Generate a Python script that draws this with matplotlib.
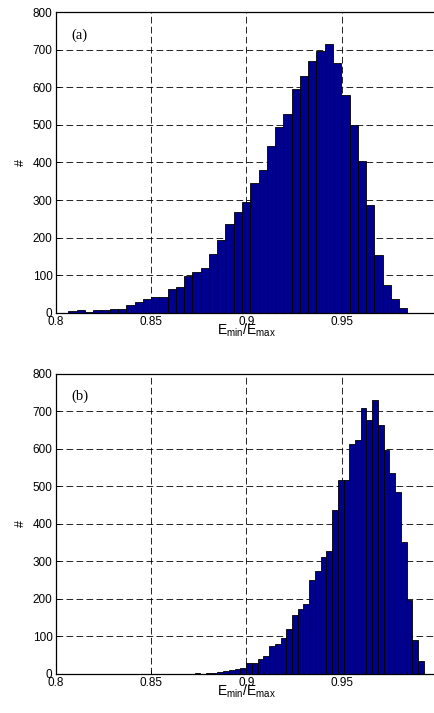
import numpy as np
import matplotlib
matplotlib.use('Agg')
import matplotlib.pyplot as plt

# ---- data ----

# (a): 41 visible bins
a_lo, a_hi = 0.8065, 0.9846
counts_a = [5, 6, 3, 6, 6, 9, 9, 20, 28, 36,
            42, 42, 63, 69, 99, 108, 120, 155, 194, 235,
            268, 294, 345, 379, 444, 495, 529, 596, 630, 670,
            698, 716, 665, 581, 500, 403, 286, 154, 74, 36,
            12]

# (b): 50 bins
b_lo, b_hi = 0.8427, 0.9932
counts_b = [0, 0, 0, 0, 0, 0, 0, 0, 0, 0,
            1, 0, 1, 2, 4, 7, 10, 12, 16, 29,
            29, 39, 48, 74, 79, 96, 119, 156, 172, 186,
            250, 274, 311, 327, 436, 516, 516, 612, 623, 710,
            676, 730, 665, 597, 537, 485, 351, 197, 90, 34]

panel_labels = ['(a)', '(b)']
xticks = [0.8, 0.85, 0.9, 0.95, 1.0]
xticklabels = ['0.8', '0.85', '0.9', '0.95', '1']
yticks = list(range(0, 801, 100))

plt.rcParams['font.family'] = ['Liberation Sans', 'DejaVu Sans']
plt.rcParams['mathtext.default'] = 'regular'

fig = plt.figure(figsize=(4.35, 7.13), dpi=100)
W, H = 435.0, 713.0

# axes boxes in pixels: left, top, right, bottom
boxes = [(56, 12.3, 436.7, 312.7), (56, 374.0, 436.7, 673.8)]
hists = [(a_lo, a_hi, counts_a), (b_lo, b_hi, counts_b)]

for box, (lo, hi, counts), lab in zip(boxes, hists, panel_labels):
    l, t, r, b = box
    ax = fig.add_axes([l / W, 1 - b / H, (r - l) / W, (b - t) / H])
    edges = np.linspace(lo, hi, len(counts) + 1)
    ax.bar(edges[:-1], counts, width=np.diff(edges), align='edge',
           color='#00008F', edgecolor='black', linewidth=0.6, zorder=2)
    ax.set_xlim(0.8, 1.0)
    ax.set_ylim(0, 800)
    ax.set_xticks(xticks)
    ax.set_xticklabels(xticklabels)
    ax.set_yticks(yticks)
    ax.set_axisbelow(True)
    ax.grid(True, color='black', linestyle=(0, (8, 4)), linewidth=0.6)
    ax.tick_params(direction='in', length=3, width=0.7, labelsize=8.5, pad=2.5)
    for s in ax.spines.values():
        s.set_linewidth(0.9)
    ax.set_xlabel(r'$E_{min}/E_{max}$', fontsize=10, labelpad=-4.5)
    ax.set_ylabel('#', fontsize=9, labelpad=4)
    ax.text(0.808, 740, lab, family='Liberation Serif', fontsize=10.5,
            va='center', ha='left')

fig.savefig('out.png', dpi=100)
